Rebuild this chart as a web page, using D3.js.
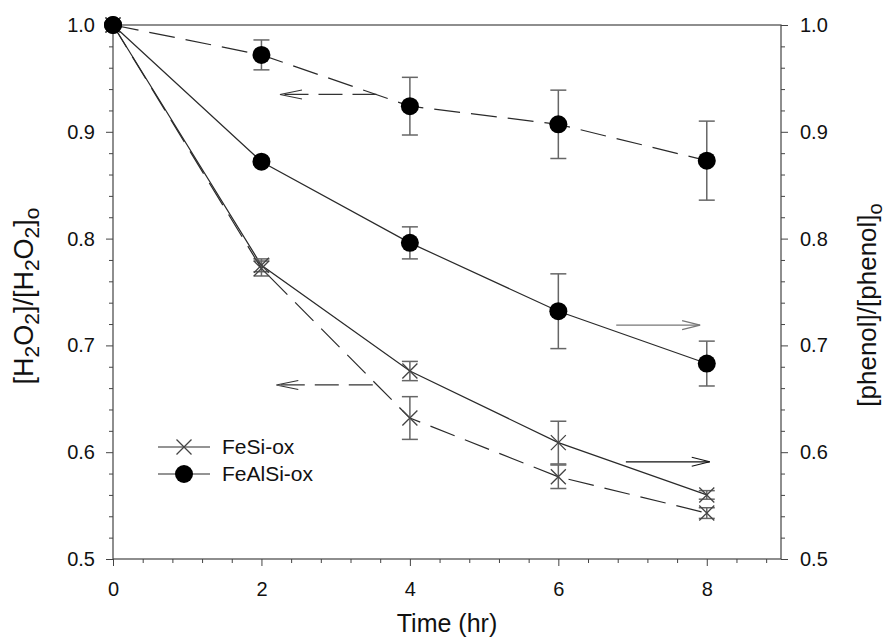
<!DOCTYPE html>
<html>
<head>
<meta charset="utf-8">
<script src="https://cdn.jsdelivr.net/npm/d3@7"></script>
<style>
  body { margin: 0; background: #fff; }
  svg { font-family: "Liberation Sans", Arial, sans-serif; }
</style>
</head>
<body>
<svg id="chart" width="887" height="639"></svg>
<script>
// time points (hr)
var times = [0, 2, 4, 6, 8];

// [H2O2]/[H2O2]o - dashed lines, left axis
var feSiH2O2 = [1.0, 0.772, 0.632, 0.577, 0.543];
var feSiH2O2Err = [0, 0.007, 0.020, 0.011, 0.005];
var feAlSiH2O2 = [1.0, 0.972, 0.924, 0.907, 0.873];
var feAlSiH2O2Err = [0, 0.014, 0.027, 0.032, 0.037];

// [phenol]/[phenol]o - solid lines, right axis
var feSiPhenol = [1.0, 0.775, 0.676, 0.609, 0.560];
var feSiPhenolErr = [0, 0.006, 0.009, 0.020, 0.004];
var feAlSiPhenol = [1.0, 0.872, 0.796, 0.732, 0.683];
var feAlSiPhenolErr = [0, 0.003, 0.015, 0.035, 0.021];

var xTicks = [0, 2, 4, 6, 8];
var yTicks = [0.5, 0.6, 0.7, 0.8, 0.9, 1.0];

// arrows telling which axis a curve belongs to
var arrowFrom = [3.55, 3.5, 6.78, 6.91];
var arrowTo = [2.25, 2.2, 7.91, 8.04];
var arrowLevel = [0.935, 0.663, 0.719, 0.591];
var arrowDashed = [true, true, false, false];
var arrowColor = ["#333", "#333", "#777", "#111"];

var legendNames = ["FeSi-ox", "FeAlSi-ox"];

var svg = d3.select("#chart");
var plotLeft = 113, plotRight = 781, plotTop = 25, plotBottom = 559;

var x = d3.scaleLinear().domain([0, 9]).range([plotLeft, plotRight]);
var y = d3.scaleLinear().domain([0.5, 1.0]).range([plotBottom, plotTop]);

var axisColor = "#444";

function styleAxis(g) {
    g.select(".domain").remove();
    g.selectAll(".tick line").attr("stroke", axisColor);
    g.selectAll(".tick text")
        .attr("fill", "#111")
        .style("font-size", "20px")
        .style("font-family", "'Liberation Sans', Arial, sans-serif");
}

// minor ticks
var xMinor = d3.range(0, 9.01, 0.4).filter(function(v) { return Math.abs(v / 2 - Math.round(v / 2)) > 1e-6; });
var yMinor = d3.range(0.5, 1.0, 0.02).filter(function(v) { return Math.abs(v * 10 - Math.round(v * 10)) > 1e-6; });

svg.append("g")
    .attr("transform", "translate(0," + plotBottom + ")")
    .call(d3.axisBottom(x).tickValues(xMinor).tickSize(4).tickFormat(""))
    .call(styleAxis);
svg.append("g")
    .attr("transform", "translate(0," + plotBottom + ")")
    .call(d3.axisBottom(x).tickValues(xTicks).tickSize(7).tickPadding(16).tickFormat(d3.format("d")))
    .call(styleAxis);

svg.append("g")
    .attr("transform", "translate(" + plotLeft + ",0)")
    .call(d3.axisLeft(y).tickValues(yMinor).tickSize(4).tickFormat(""))
    .call(styleAxis);
svg.append("g")
    .attr("transform", "translate(" + plotLeft + ",0)")
    .call(d3.axisLeft(y).tickValues(yTicks).tickSize(7).tickPadding(11).tickFormat(d3.format(".1f")))
    .call(styleAxis);

svg.append("g")
    .attr("transform", "translate(" + plotRight + ",0)")
    .call(d3.axisRight(y).tickValues(yMinor).tickSize(4).tickFormat(""))
    .call(styleAxis);
svg.append("g")
    .attr("transform", "translate(" + plotRight + ",0)")
    .call(d3.axisRight(y).tickValues(yTicks).tickSize(7).tickPadding(12).tickFormat(d3.format(".1f")))
    .call(styleAxis);

// frame
svg.append("rect")
    .attr("x", plotLeft)
    .attr("y", plotTop)
    .attr("width", plotRight - plotLeft)
    .attr("height", plotBottom - plotTop)
    .attr("fill", "none")
    .attr("stroke", axisColor)
    .attr("stroke-width", 1.2);

// axis titles
svg.append("text")
    .attr("x", (plotLeft + plotRight) / 2)
    .attr("y", 632)
    .attr("text-anchor", "middle")
    .style("font-size", "25px")
    .attr("fill", "#111")
    .text("Time (hr)");

var yl = svg.append("text")
    .attr("transform", "translate(33,296) rotate(-90)")
    .attr("text-anchor", "middle")
    .style("font-size", "27px")
    .attr("fill", "#111");
yl.append("tspan").text("[H");
yl.append("tspan").attr("dy", 6).style("font-size", "21px").text("2");
yl.append("tspan").attr("dy", -6).text("O");
yl.append("tspan").attr("dy", 6).style("font-size", "21px").text("2");
yl.append("tspan").attr("dy", -6).text("]/[H");
yl.append("tspan").attr("dy", 6).style("font-size", "21px").text("2");
yl.append("tspan").attr("dy", -6).text("O");
yl.append("tspan").attr("dy", 6).style("font-size", "21px").text("2");
yl.append("tspan").attr("dy", -6).text("]");
yl.append("tspan").attr("dy", 6).style("font-size", "21px").text("o");

var yr = svg.append("text")
    .attr("transform", "translate(876,305) rotate(-90)")
    .attr("text-anchor", "middle")
    .style("font-size", "26px")
    .attr("fill", "#111");
yr.append("tspan").text("[phenol]/[phenol]");
yr.append("tspan").attr("dy", 6).style("font-size", "20px").text("o");

// series
function points(vals, errs) {
    return times.map(function(t, i) { return {t: t, v: vals[i], e: errs[i]}; });
}
var series = [
    {pts: points(feSiH2O2, feSiH2O2Err), dashed: true, marker: "x"},
    {pts: points(feAlSiH2O2, feAlSiH2O2Err), dashed: true, marker: "o"},
    {pts: points(feSiPhenol, feSiPhenolErr), dashed: false, marker: "x"},
    {pts: points(feAlSiPhenol, feAlSiPhenolErr), dashed: false, marker: "o"}
];

var line = d3.line()
    .x(function(d) { return x(d.t); })
    .y(function(d) { return y(d.v); });

var lineColor = "#2a2a2a";
var dash = "26,11";

svg.selectAll(".series-line")
    .data(series)
    .enter().append("path")
    .attr("class", "series-line")
    .attr("d", function(d) { return line(d.pts); })
    .attr("fill", "none")
    .attr("stroke", lineColor)
    .attr("stroke-width", 1.2)
    .attr("stroke-dasharray", function(d) { return d.dashed ? dash : null; });

// arrows
var arrows = arrowFrom.map(function(f, i) {
    return {from: f, to: arrowTo[i], v: arrowLevel[i], dashed: arrowDashed[i], color: arrowColor[i]};
});
var ag = svg.selectAll(".arrow")
    .data(arrows)
    .enter().append("g")
    .attr("class", "arrow");
ag.append("line")
    .attr("x1", function(d) { return x(d.from); })
    .attr("x2", function(d) { return x(d.to); })
    .attr("y1", function(d) { return y(d.v); })
    .attr("y2", function(d) { return y(d.v); })
    .attr("stroke", function(d) { return d.color; })
    .attr("stroke-width", 1.2)
    .attr("stroke-dasharray", function(d) { return d.dashed ? "24,10" : null; });
ag.append("path")
    .attr("d", function(d) {
        var tip = x(d.to), yy = y(d.v);
        var dir = d.to < d.from ? 1 : -1;
        var len = d.dashed ? 22 : 18;
        return "M" + (tip + dir * len) + "," + (yy - 4.5) + "L" + tip + "," + yy + "L" + (tip + dir * len) + "," + (yy + 4.5);
    })
    .attr("fill", "none")
    .attr("stroke", function(d) { return d.color; })
    .attr("stroke-width", 1.1);

// error bars
var errColor = "#666";
var eg = svg.selectAll(".errs")
    .data(series)
    .enter().append("g")
    .attr("class", "errs");
var bars = eg.selectAll("g")
    .data(function(d) { return d.pts.filter(function(p) { return p.e > 0; }); })
    .enter().append("g");
bars.append("line")
    .attr("x1", function(d) { return x(d.t); })
    .attr("x2", function(d) { return x(d.t); })
    .attr("y1", function(d) { return y(d.v + d.e); })
    .attr("y2", function(d) { return y(d.v - d.e); })
    .attr("stroke", errColor)
    .attr("stroke-width", 1.5);
[1, -1].forEach(function(s) {
    bars.append("line")
        .attr("x1", function(d) { return x(d.t) - 8; })
        .attr("x2", function(d) { return x(d.t) + 8; })
        .attr("y1", function(d) { return y(d.v + s * d.e); })
        .attr("y2", function(d) { return y(d.v + s * d.e); })
        .attr("stroke", errColor)
        .attr("stroke-width", 1.5);
});

// markers
function drawMarker(g, kind, cx, cy) {
    if (kind === "o") {
        g.append("circle")
            .attr("cx", cx).attr("cy", cy).attr("r", 9)
            .attr("fill", "#000");
    } else {
        var s = 7.5;
        g.append("path")
            .attr("d", "M" + (cx - s) + "," + (cy - s) + "L" + (cx + s) + "," + (cy + s) +
                "M" + (cx - s) + "," + (cy + s) + "L" + (cx + s) + "," + (cy - s))
            .attr("stroke", "#444")
            .attr("stroke-width", 1.3);
    }
}

series.forEach(function(s) {
    var g = svg.append("g");
    s.pts.forEach(function(p) { drawMarker(g, s.marker, x(p.t), y(p.v)); });
});

// legend
var legendY = [447, 474];
var lg = svg.append("g");
legendNames.forEach(function(name, i) {
    var ly = legendY[i];
    lg.append("line")
        .attr("x1", 158).attr("x2", 210)
        .attr("y1", ly).attr("y2", ly)
        .attr("stroke", lineColor)
        .attr("stroke-width", 1.2);
    drawMarker(lg, i === 0 ? "x" : "o", 184, ly);
    lg.append("text")
        .attr("x", 222)
        .attr("y", ly + 7)
        .style("font-size", "21px")
        .attr("fill", "#111")
        .text(name);
});
</script>
</body>
</html>
